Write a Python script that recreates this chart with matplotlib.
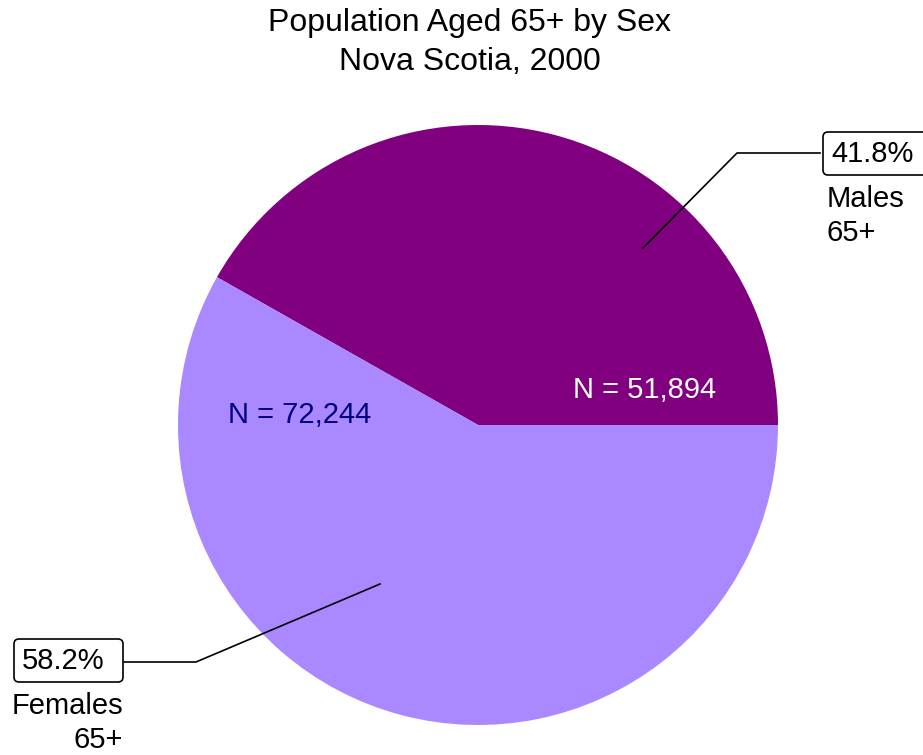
import matplotlib.pyplot as plt
from matplotlib.patches import FancyBboxPatch

# ---------------------------------------------------------------------------
# Data
# ---------------------------------------------------------------------------
groups = ["Males\n65+", "Females\n65+"]
shares = [41.8, 58.2]
counts = [51894, 72244]
colors = ["#800080", "#AA88FF"]
count_colors = ["white", "#000080"]

W, H = 923, 755
plt.rcParams['font.family'] = ['Liberation Sans', 'DejaVu Sans']

fig = plt.figure(figsize=(W / 100, H / 100), dpi=100)
ax = fig.add_axes([0, 0, 1, 1])


def Y(y):
    """Convert a top-down pixel row to the axes' bottom-up coordinate."""
    return H - y


ax.pie(shares, colors=colors, startangle=0, counterclock=True,
       center=(478, Y(425)), radius=300, frame=True,
       wedgeprops=dict(linewidth=0))

ax.set_xlim(0, W)
ax.set_ylim(0, H)
ax.set_aspect('auto')
ax.axis('off')

fs = 21
fs_title = 23

# title
ax.text(470, Y(23), "Population Aged 65+ by Sex", ha='center', va='center', fontsize=fs_title)
ax.text(470, Y(62), "Nova Scotia, 2000", ha='center', va='center', fontsize=fs_title)

# counts inside slices
ax.text(645, Y(390), f"N = {counts[0]:,}", ha='center', va='center',
        fontsize=fs, color=count_colors[0])
ax.text(300, Y(415), f"N = {counts[1]:,}", ha='center', va='center',
        fontsize=fs, color=count_colors[1])

# leader lines
ax.plot([643, 737, 820], [Y(248), Y(153), Y(153)], color='black', lw=1.2)
ax.plot([380, 196, 124], [Y(584), Y(662), Y(662)], color='black', lw=1.2)

# percentage boxes
for (x0, y0), share in zip([(823, 132), (14, 639)], shares):
    box = FancyBboxPatch((x0, Y(y0 + 43)), 109, 43,
                         boxstyle="round,pad=0,rounding_size=5",
                         facecolor='white', edgecolor='black', lw=1.2)
    ax.add_patch(box)
    ax.text(x0 + 8, Y(y0 + 22), f"{share}%", ha='left', va='center', fontsize=fs)

# group names
ax.text(827, Y(199), "Males", ha='left', va='center', fontsize=fs)
ax.text(827, Y(233), "65+", ha='left', va='center', fontsize=fs)
ax.text(123, Y(706), "Females", ha='right', va='center', fontsize=fs)
ax.text(123, Y(740), "65+", ha='right', va='center', fontsize=fs)

fig.savefig("out.png", dpi=100)
